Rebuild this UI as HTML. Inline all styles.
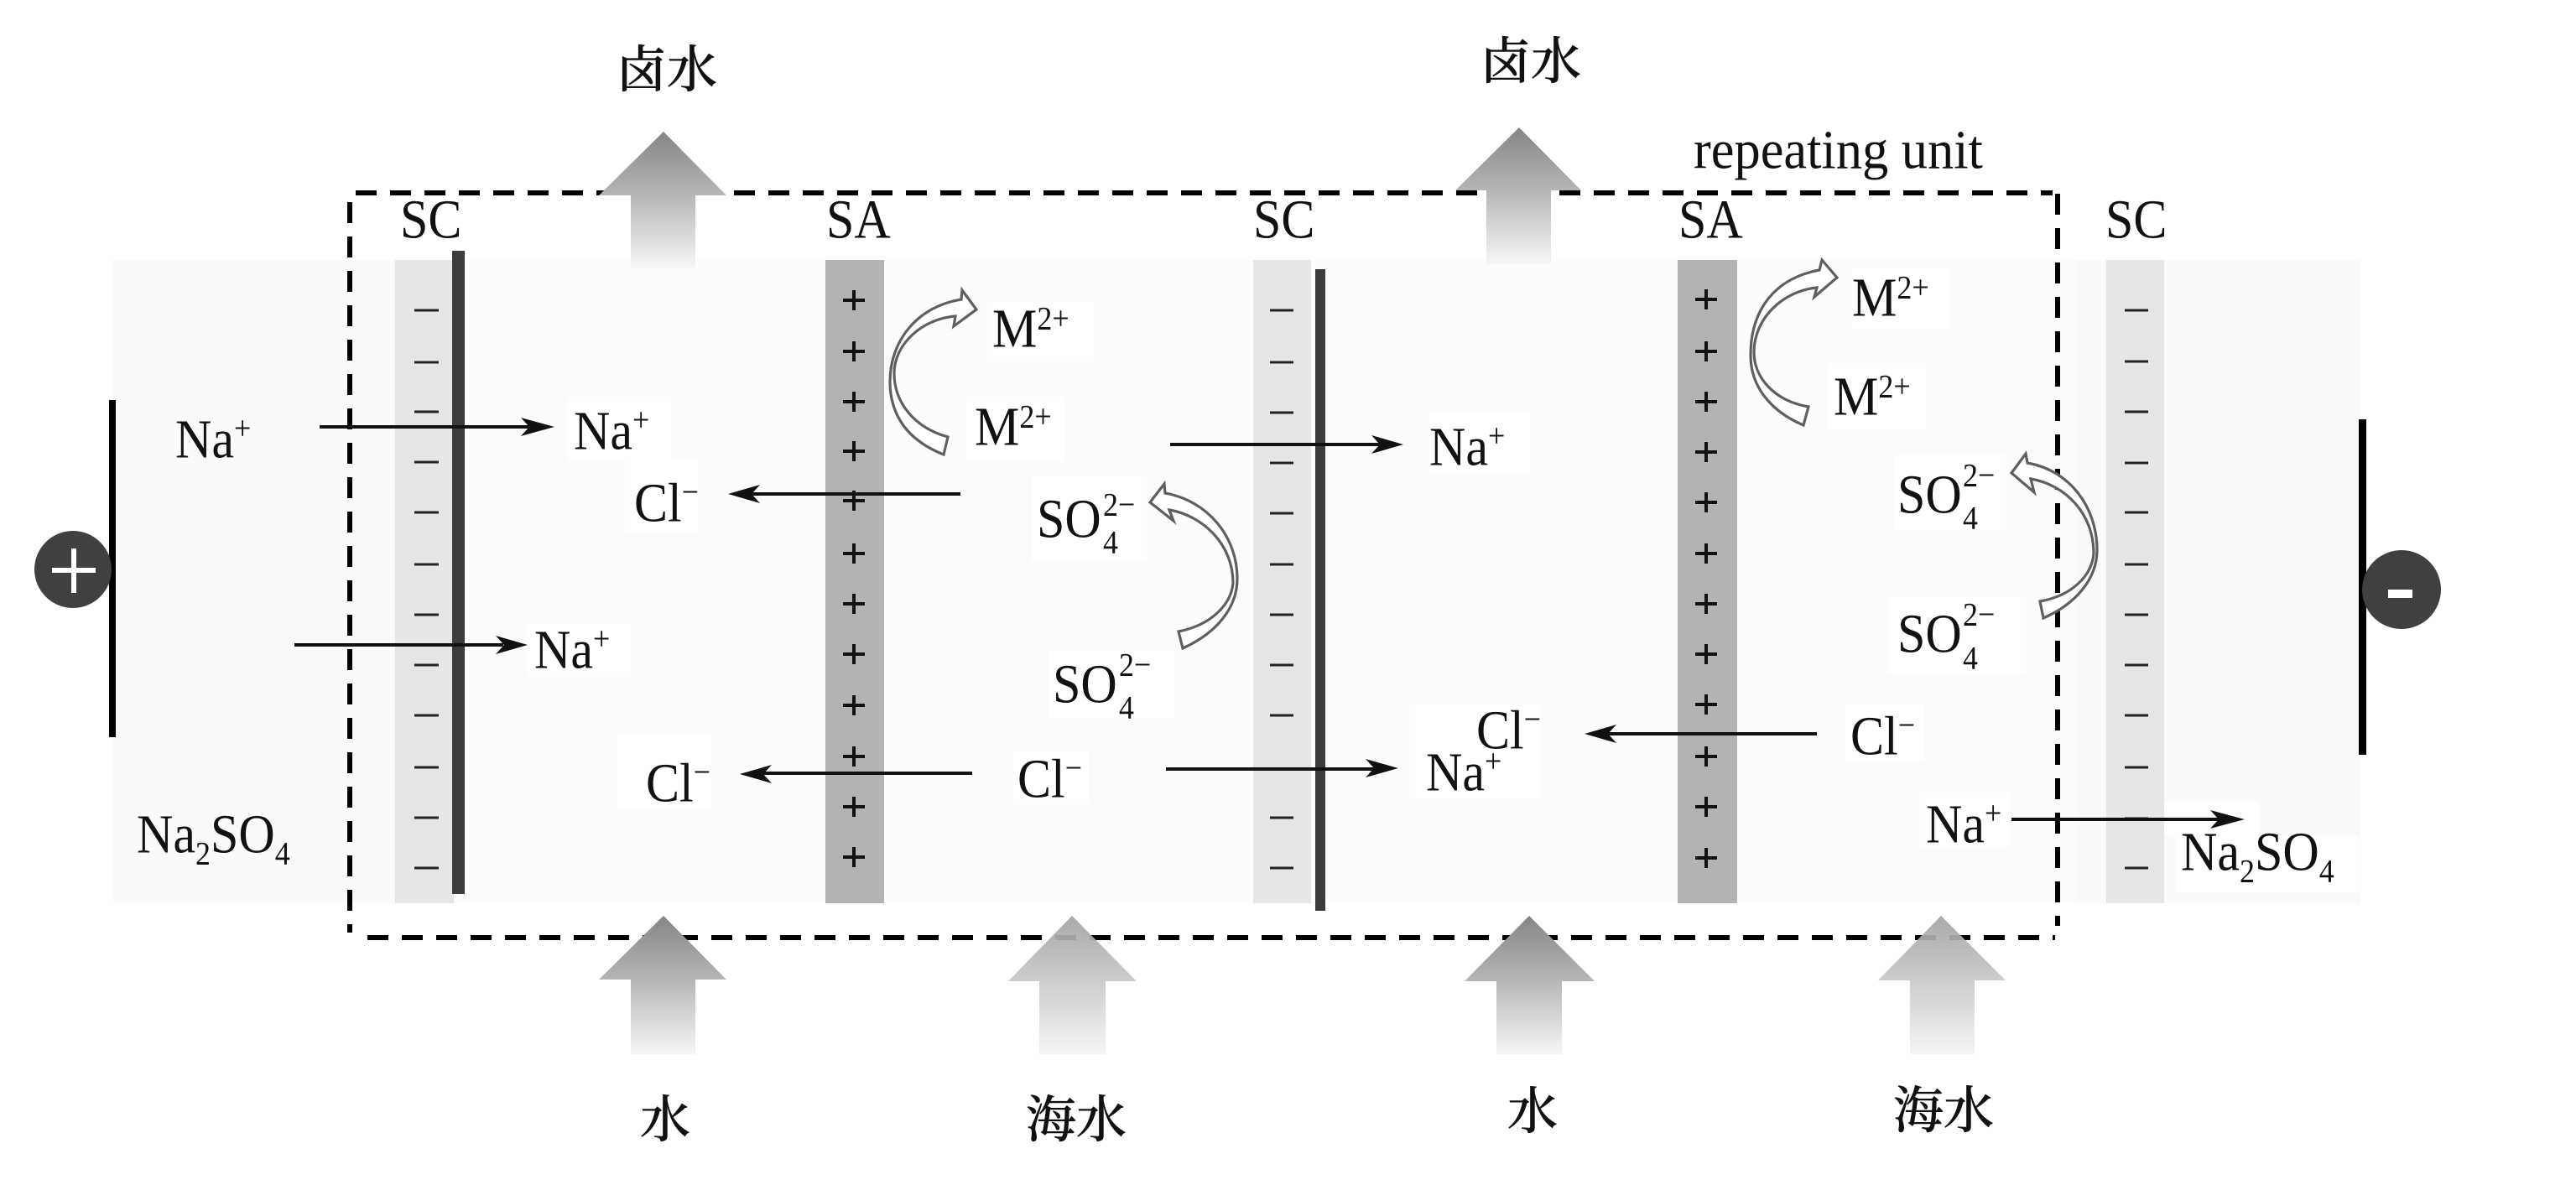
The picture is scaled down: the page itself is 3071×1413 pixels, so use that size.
<!DOCTYPE html>
<html><head><meta charset="utf-8"><style>
html,body{margin:0;padding:0;background:#fff}
svg{display:block}
.t{font-family:"Liberation Serif","Noto Serif CJK SC",serif;font-size:66px;fill:#111;transform-box:fill-box;transform-origin:0 50%;transform:translateY(1.5px) scaleX(.91)}
.s{font-size:39.5px}
.z{font-family:"Liberation Serif","Noto Serif CJK SC",serif;font-size:60px;fill:#111;font-weight:500;stroke:#111;stroke-width:.6px}
.m{stroke:#222;stroke-width:3;fill:none}
.p{stroke:#111;stroke-width:4;fill:none}
.l{stroke:#111;stroke-width:4;fill:none}
.c{fill:#fff;stroke:#5f5f5f;stroke-width:3.2;stroke-linejoin:miter}
</style></head><body>
<svg width="3071" height="1413" viewBox="0 0 3071 1413" xmlns="http://www.w3.org/2000/svg">
<defs>
<linearGradient id="w" x1="0" y1="0" x2="0" y2="1"><stop offset="0" stop-color="#858585"/><stop offset=".45" stop-color="#b4b4b4"/><stop offset="1" stop-color="#f6f6f6"/></linearGradient>
<linearGradient id="g" x1="0" y1="0" x2="0" y2="1"><stop offset="0" stop-color="#a2a2a2"/><stop offset=".45" stop-color="#c6c6c6"/><stop offset="1" stop-color="#f4f4f4"/></linearGradient>
</defs>
<rect width="3071" height="1413" fill="#fff"/>
<!-- panels -->
<rect x="135" y="310" width="336" height="767" fill="#fafafa"/>
<rect x="471" y="310" width="2004" height="767" fill="#fcfcfc"/>
<rect x="2475" y="310" width="339" height="767" fill="#fafafa"/>
<!-- strips -->
<rect x="471" y="310" width="70" height="767" fill="#e6e6e6"/>
<rect x="984" y="310" width="70" height="767" fill="#b3b3b3"/>
<rect x="1494" y="310" width="69" height="767" fill="#e6e6e6"/>
<rect x="2000" y="310" width="71" height="767" fill="#b3b3b3"/>
<rect x="2511" y="310" width="69" height="767" fill="#e6e6e6"/>
<rect x="539" y="299" width="15" height="767" fill="#3c3c3c"/>
<rect x="1568" y="321" width="12" height="765" fill="#3c3c3c"/>
<!-- white label backgrounds -->
<g fill="#fff">
<rect x="677" y="473" width="123" height="76"/>
<rect x="745" y="546" width="88" height="88"/>
<rect x="629" y="743" width="123" height="64"/>
<rect x="735" y="876" width="114" height="89"/>
<rect x="1177" y="360" width="127" height="71"/>
<rect x="1152" y="473" width="118" height="77"/>
<rect x="1230" y="567" width="137" height="103"/>
<rect x="1250" y="775" width="151" height="82"/>
<rect x="1207" y="895" width="91" height="64"/>
<rect x="1681" y="839" width="155" height="113"/>
<rect x="1704" y="490" width="120" height="75"/>
<rect x="2208" y="319" width="115" height="73"/>
<rect x="2178" y="433" width="119" height="80"/>
<rect x="2258" y="542" width="133" height="91"/>
<rect x="2251" y="711" width="164" height="92"/>
<rect x="2200" y="839" width="94" height="68"/>
<rect x="2289" y="945" width="107" height="65"/>
<rect x="2593" y="997" width="220" height="67"/>
<rect x="2580" y="955" width="113" height="42"/>
</g>
<!-- minus ticks -->
<path class="m" d="M494 370H523M494 432H523M494 491H523M494 551H523M494 611H523M494 673H523M494 733H523M494 793H523M494 853H523M494 915H523M494 975H523M494 1035H523"/>
<path class="m" d="M1514 370H1542M1514 432H1542M1514 492H1542M1514 552H1542M1514 612H1542M1514 673H1542M1514 733H1542M1514 793H1542M1514 853H1542M1514 975H1542M1514 1035H1542"/>
<path class="m" d="M2533 370H2561M2533 431H2561M2533 491H2561M2533 552H2561M2533 611H2561M2533 673H2561M2533 733H2561M2533 793H2561M2533 853H2561M2533 915H2561M2533 976H2561M2533 1035H2561"/>
<!-- plus marks -->
<path class="p" d="M1005 358H1031M1018 346V370M1005 419H1031M1018 407V431M1005 479H1031M1018 467V491M1005 538H1031M1018 526V550M1005 597H1031M1018 585V609M1005 660H1031M1018 648V672M1005 720H1031M1018 708V732M1005 780H1031M1018 768V792M1005 841H1031M1018 829V853M1005 902H1031M1018 890V914M1005 962H1031M1018 950V974M1005 1022H1031M1018 1010V1034"/>
<path class="p" d="M2021 357H2047M2034 345V369M2021 419H2047M2034 407V431M2021 479H2047M2034 467V491M2021 539H2047M2034 527V551M2021 599H2047M2034 587V611M2021 660H2047M2034 648V672M2021 720H2047M2034 708V732M2021 780H2047M2034 768V792M2021 840H2047M2034 828V852M2021 902H2047M2034 890V914M2021 962H2047M2034 950V974M2021 1023H2047M2034 1011V1035"/>
<!-- electrodes -->
<rect x="130" y="477" width="8" height="402" fill="#000"/>
<rect x="2812" y="500" width="9" height="400" fill="#000"/>
<ellipse cx="87" cy="679" rx="46" ry="46" fill="#404040"/>
<path d="M62 680H114M88 654V707" stroke="#fff" stroke-width="6" fill="none"/>
<ellipse cx="2863" cy="703" rx="47" ry="47" fill="#404040"/>
<rect x="2847" y="703" width="29" height="10" fill="#fff"/>
<!-- dashed box -->
<g stroke="#000" stroke-width="6" fill="none">
<path d="M424 230H2447" stroke-dasharray="25 16"/>
<path d="M438 1118H2450" stroke-dasharray="25 16"/>
<path d="M417 241V1112" stroke-dasharray="25 16"/>
<path d="M2453 231V1104" stroke-dasharray="25 16"/>
</g>
<!-- thin arrows -->
<path class="l" d="M381 509H632"/><polygon points="661,509 621,498 631,509 621,520" fill="#111"/>
<path class="l" d="M351 769H600"/><polygon points="629,769 591,758 601,769 591,780" fill="#111"/>
<path class="l" d="M1145 589H896"/><polygon points="868,589 906,578 896,589 906,600" fill="#111"/>
<path class="l" d="M1159 922H910"/><polygon points="882,923 920,912 910,923 920,934" fill="#111"/>
<path class="l" d="M1395 530H1645"/><polygon points="1673,530 1635,519 1645,530 1635,541" fill="#111"/>
<path class="l" d="M1390 917H1640"/><polygon points="1667,916 1628,905 1638,916 1628,927" fill="#111"/>
<path class="l" d="M2166 875H1917"/><polygon points="1889,875 1927,864 1917,875 1927,886" fill="#111"/>
<path class="l" d="M2398 977H2647"/><polygon points="2676,977 2635,966 2645,977 2635,988" fill="#111"/>
<!-- curved arrows -->
<path class="c" d="M1125,542 C1082,525 1061,495 1061,455 C1061,405 1095,365 1146,357 L1147,346 L1164,369 L1137,389 L1139,377 C1100,380 1066,410 1066,445 C1066,480 1090,510 1130,521 Z"/>
<path class="c" d="M1410,773 C1450,755 1475,725 1475,690 C1475,640 1440,597 1389,588 L1388,577 L1371,599 L1399,621 L1394,608 C1435,615 1470,650 1470,695 C1468,720 1445,745 1405,753 Z"/>
<path class="c" d="M2150,507 C2110,490 2087,460 2087,424 C2087,370 2115,332 2169,322 L2172,310 L2190,331 L2163,354 L2166,343 C2125,347 2091,380 2091,420 C2091,450 2115,478 2156,485 Z"/>
<path class="c" d="M2436,737 C2475,720 2500,690 2500,656 C2500,605 2468,561 2417,552 L2415,541 L2398,564 L2425,587 L2421,571 C2462,578 2496,612 2496,660 C2494,685 2472,710 2432,717 Z"/>
<!-- big arrows -->
<polygon points="791,157 866,233 829,233 829,320 752,320 752,233 714,233" fill="url(#w)"/>
<polygon points="1811,152 1885,227 1849,227 1849,315 1772,315 1772,227 1735,227" fill="url(#w)"/>
<polygon points="791,1092 866,1168 829,1168 829,1257 752,1257 752,1168 714,1168" fill="url(#w)"/>
<polygon points="1278,1092 1355,1170 1318,1170 1318,1257 1239,1257 1239,1170 1202,1170" fill="url(#g)" opacity=".92"/>
<polygon points="1823,1092 1901,1170 1862,1170 1862,1257 1784,1257 1784,1170 1746,1170" fill="url(#w)"/>
<polygon points="2314,1092 2391,1169 2354,1169 2354,1257 2277,1257 2277,1169 2239,1169" fill="url(#g)" opacity=".92"/>
<!-- labels -->
<text class="t" x="477" y="282">SC</text>
<text class="t" x="985" y="282">SA</text>
<text class="t" x="1494" y="282">SC</text>
<text class="t" x="2001" y="282">SA</text>
<text class="t" x="2510" y="282">SC</text>
<text class="t" x="2019" y="199" textLength="379" lengthAdjust="spacingAndGlyphs">repeating unit</text>
<text class="t" x="209" y="544">Na<tspan class="s" dy="-22">+</tspan></text>
<text class="t" x="684" y="534">Na<tspan class="s" dy="-22">+</tspan></text>
<text class="t" x="637" y="795">Na<tspan class="s" dy="-22">+</tspan></text>
<text class="t" x="1704" y="553">Na<tspan class="s" dy="-22">+</tspan></text>
<text class="t" x="1700" y="941">Na<tspan class="s" dy="-22">+</tspan></text>
<text class="t" x="2296" y="1003">Na<tspan class="s" dy="-22">+</tspan></text>
<text class="t" x="756" y="620">Cl<tspan class="s" dy="-22">−</tspan></text>
<text class="t" x="770" y="954">Cl<tspan class="s" dy="-22">−</tspan></text>
<text class="t" x="1213" y="949">Cl<tspan class="s" dy="-22">−</tspan></text>
<text class="t" x="1760" y="891">Cl<tspan class="s" dy="-22">−</tspan></text>
<text class="t" x="2206" y="898">Cl<tspan class="s" dy="-22">−</tspan></text>
<text class="t" x="1183" y="412">M<tspan class="s" dy="-21">2+</tspan></text>
<text class="t" x="1162" y="529">M<tspan class="s" dy="-21">2+</tspan></text>
<text class="t" x="2208" y="375">M<tspan class="s" dy="-21">2+</tspan></text>
<text class="t" x="2186" y="493">M<tspan class="s" dy="-21">2+</tspan></text>
<text class="t" x="1236" y="639">SO</text><text class="t s" x="1315" y="613">2−</text><text class="t s" x="1315" y="658">4</text>
<text class="t" x="1255" y="836">SO</text><text class="t s" x="1334" y="804">2−</text><text class="t s" x="1334" y="855">4</text>
<text class="t" x="2262" y="610">SO</text><text class="t s" x="2340" y="578">2−</text><text class="t s" x="2340" y="629">4</text>
<text class="t" x="2262" y="776">SO</text><text class="t s" x="2340" y="744">2−</text><text class="t s" x="2340" y="796">4</text>
<text class="t" x="163" y="1015">Na<tspan class="s" dy="14">2</tspan><tspan dy="-14">SO</tspan><tspan class="s" dy="14">4</tspan></text>
<text class="t" x="2600" y="1036">Na<tspan class="s" dy="14">2</tspan><tspan dy="-14">SO</tspan><tspan class="s" dy="14">4</tspan></text>
<text class="z" x="735" y="104">卤水</text>
<text class="z" x="1765" y="94">卤水</text>
<text class="z" x="763" y="1356">水</text>
<text class="z" x="1223" y="1356">海水</text>
<text class="z" x="1797" y="1346">水</text>
<text class="z" x="2257" y="1345">海水</text>
</svg>
</body></html>
